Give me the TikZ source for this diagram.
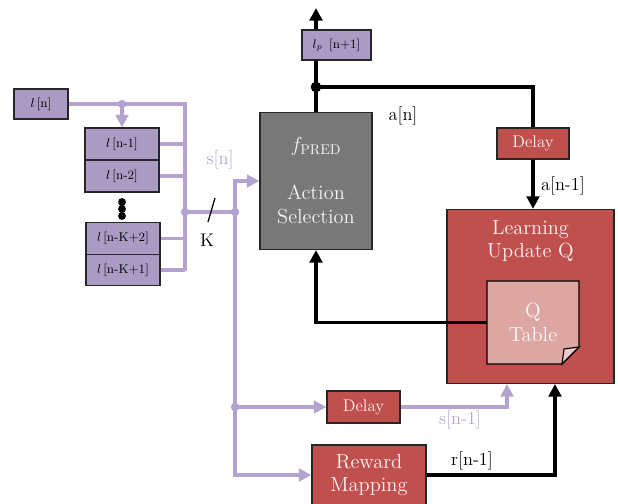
\documentclass[tikz,border=0pt]{standalone}
\usepackage{amsmath}
\usepackage{xcolor}
\usetikzlibrary{arrows.meta}

\definecolor{lavbox}{HTML}{A99BC4}
\definecolor{lavline}{HTML}{B2A4CE}
\definecolor{brick}{HTML}{C0504D}
\definecolor{qpink}{HTML}{DDA6A2}
\definecolor{qfold}{HTML}{EBCBC9}
\definecolor{slate}{HTML}{787878}

\begin{document}
\begin{tikzpicture}[x=0.025cm,y=-0.025cm,
  regbox/.style={draw=black!85,fill=lavbox,line width=0.8pt,inner sep=0pt,
    minimum width=1.85cm,minimum height=0.8cm,font=\fontsize{9}{11}\selectfont},
  redbox/.style={draw=black!85,fill=brick,line width=0.8pt,inner sep=0pt,
    text=white!95!brick,align=center},
  bus/.style={lavline,line width=2.4pt},
  wire/.style={black,line width=2.4pt},
  tip/.style={-{Triangle[length=9pt,width=9pt]}},
  lbl/.style={font=\fontsize{13}{15}\selectfont}]

\useasboundingbox (0,0) rectangle (618,504);

% Draw the register boxes
\node[regbox,minimum width=1.35cm,minimum height=0.75cm] (ln) at (41,104) {$l$\,[n]};
\node[regbox] (lm1) at (122,144) {$l$\,[n-1]};
\node[regbox] (lm2) at (122,176) {$l$\,[n-2]};
\node[regbox,minimum height=0.79cm] (lk2) at (123,238.5) {$l$\,[n-K+2]};
\node[regbox,minimum height=0.79cm] (lk1) at (123,270) {$l$\,[n-K+1]};
\fill (122,202) circle[radius=2.8pt] (122,209) circle[radius=2.8pt] (122,216) circle[radius=2.8pt];

% Define coordinates for the bus
\coordinate (tap) at (122,104);
\coordinate (bustop) at (185,104);
\coordinate (busbot) at (185,271);
\coordinate (busout) at (185,212);
\coordinate (sdot) at (235,212);
\coordinate (ddot) at (235,407);

% Draw the purple bus
\draw[bus] (ln.east) -- (bustop) -- (busbot);
\draw[bus] (lm1.east) -- (lm1.east -| bustop);
\draw[bus] (lm2.east) -- (lm2.east -| bustop);
\draw[bus] (lk2.east) -- (lk2.east -| bustop);
\draw[bus] (lk1.east) -- (lk1.east -| bustop);
\draw[bus,tip] (tap) -- (lm1.north);
\draw[bus] (busout) -- (sdot);
\fill[lavline] (tap) circle[radius=3pt] (busout) circle[radius=3pt] (sdot) circle[radius=3pt] (ddot) circle[radius=3pt];
\draw[line width=0.9pt] (208,222) -- (215,198);
\node[lbl] (kk) at (207,240) {K};
\node[lbl,text=lavline] (sn) at (220,160) {s[n]};

% Draw the action selection block
\node[draw=black!85,fill=slate,line width=0.8pt,minimum width=2.8cm,minimum height=3.425cm,
  text=white!92!slate,align=center,font=\fontsize{14.5}{17}\selectfont] (act) at (316,181)
  {$f_{\mathrm{PRED}}$\\[17pt]Action\\Selection};
\node[regbox,minimum width=1.725cm,minimum height=0.75cm] (lp) at (336.5,45) {$l_p$\ \,[n+1]};
\coordinate (top) at (316,8);
\coordinate (adot) at (316,87);
\draw[bus,tip] (sdot) |- (act.west);

% Draw the learning block
\node[redbox,minimum width=4.175cm,minimum height=4.35cm] (learn) at (530.5,296.5) {};
\node[text=white!95!brick,align=center,font=\fontsize{14.5}{17}\selectfont] (ltxt) at (530.5,241) {Learning\\Update Q};
\filldraw[fill=qpink,line width=0.8pt] (487,281) -- (579,281) -- (579,347) -- (562,364) -- (487,364) -- cycle;
\filldraw[fill=qfold,line width=0.8pt] (579,347) -- (562,364) -- (564,349) -- cycle;
\node[text=white!95!qpink,align=center,minimum width=2.3cm,minimum height=2.075cm,
  font=\fontsize{14.5}{17}\selectfont] (qtab) at (533,322.5) {Q\\Table};

% Add the delays and the reward mapping
\node[redbox,minimum width=1.8cm,minimum height=0.775cm,font=\fontsize{12}{14}\selectfont] (dly1) at (533,143.5) {Delay};
\node[redbox,minimum width=1.825cm,minimum height=0.8cm,font=\fontsize{12}{14}\selectfont] (dly2) at (363.5,407) {Delay};
\node[redbox,minimum width=2.85cm,minimum height=1.5cm,font=\fontsize{14.5}{17}\selectfont] (rew) at (369,475) {Reward\\Mapping};
\coordinate (sin) at (507,384);
\coordinate (rin) at (555,384);

% Draw the black connectors
\draw[wire] (act.north) -- (act.north |- lp.south);
\draw[wire,tip] (act.north |- lp.north) -- (top);
\fill (adot) circle[radius=3.8pt];
\draw[wire] (adot) -| (dly1.north);
\draw[wire,tip] (dly1.south) -- (dly1.south |- learn.north);
\draw[wire,tip] (qtab.west) -| (act.south);
\draw[wire,tip] (rew.east) -| (rin);

% Draw the purple connectors at the bottom
\draw[bus] (sdot) -- (ddot);
\draw[bus,tip] (ddot) -- (dly2.west);
\draw[bus,tip] (ddot) |- (rew.west);
\draw[bus,tip] (dly2.east) -| (sin);

% Add the signal labels
\node[lbl] (an) at (403,116) {a[n]};
\node[lbl] (an1) at (563,186) {a[n-1]};
\node[lbl,text=lavline] (sn1) at (460,420) {s[n-1]};
\node[lbl] (rn1) at (472,461) {r[n-1]};

\end{tikzpicture}
\end{document}
